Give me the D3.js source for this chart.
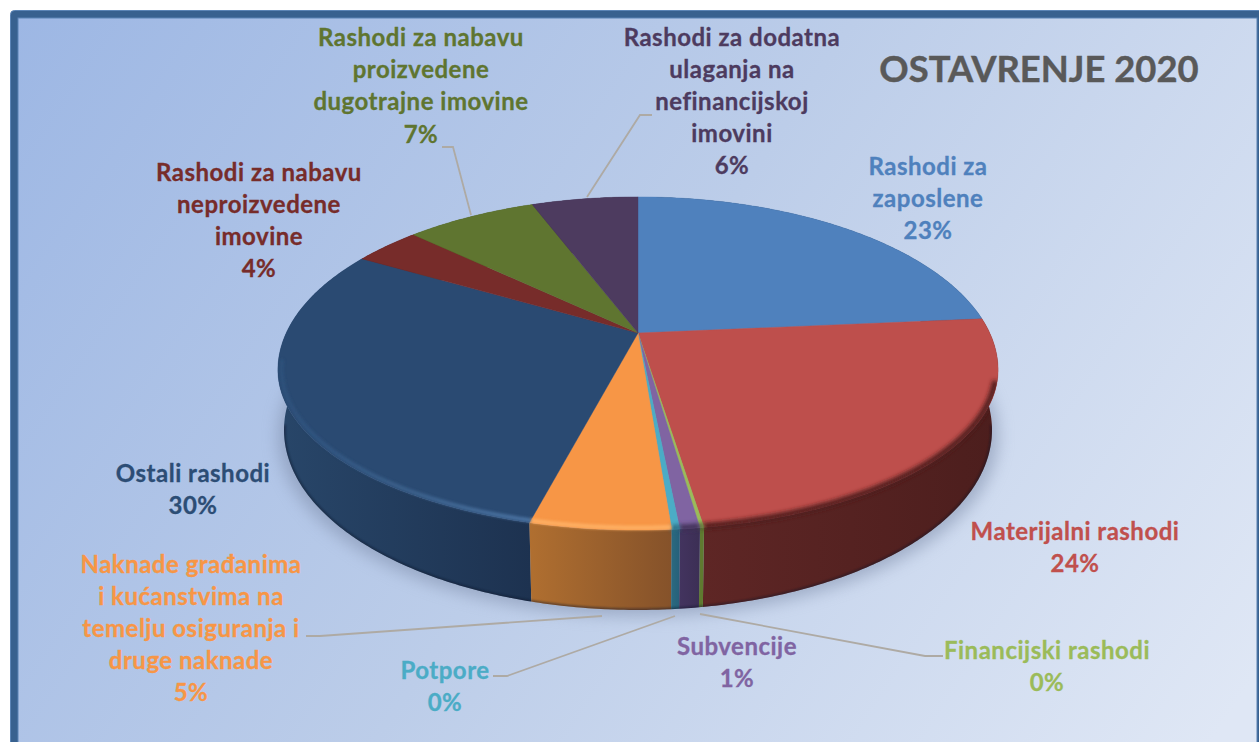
<!DOCTYPE html>
<html><head><meta charset="utf-8">
<script src="https://cdn.jsdelivr.net/npm/d3@7/dist/d3.min.js"></script>
<style>html,body{margin:0;padding:0;background:#fff;overflow:hidden}svg{display:block}text{font-family:Lato,Carlito,"Open Sans",sans-serif;font-weight:700}</style>
</head><body><script>
// ---- data ----
const chartTitle = "OSTAVRENJE 2020";
const categories = [
  ["Rashodi za","zaposlene"],
  ["Materijalni rashodi"],
  ["Financijski rashodi"],
  ["Subvencije"],
  ["Potpore"],
  ["Naknade građanima","i kućanstvima na","temelju osiguranja i","druge naknade"],
  ["Ostali rashodi"],
  ["Rashodi za nabavu","neproizvedene","imovine"],
  ["Rashodi za nabavu","proizvedene","dugotrajne imovine"],
  ["Rashodi za dodatna","ulaganja na","nefinancijskoj","imovini"]
];
const values = [23.1,24.46,0.15,0.75,0.3,5.3,29.65,3.6,7,5.69];
// ---- style ----
const topColors  = ["#4f81bd","#be4f4c","#9bbb59","#8064a2","#4bacc6","#f79646","#2a4a72","#772c2a","#5f7530","#4d3b5f"];
const textColors = ["#4f81bd","#c0504d","#9bbb59","#8064a2","#4bacc6","#f79646","#2c4d75","#772c2a","#5f7530","#4d3b5f"];
const sideColors = [["#2a4467","#2a4467"],["#5e2625","#4c1e1d"],["#5f7a30","#5f7a30"],["#43345f","#3c2f55"],["#2b6a80","#26607a"],["#b06f30","#85522a"],["#284669","#1d3250"],["#4d1c1b","#4d1c1b"],["#3f4e20","#3f4e20"],["#33273f","#33273f"]];
const rimColors  = [null,"#4e1f1e","#5f7a30","#3c2f55","#2b6a80","#ffb469","url(#hl)",null,null,null];
// label layout: centre x, first line centre y, line step
const labelLayout = [[928,165,32],[1075,530,32],[1047,649,32],[737,645,32],[445,669,32],[191,563,32],[193,472,32],[259,171,32],[421,36,32.4],[732,36,32.2]];
const leaders = [
  [[700,614],[925,656],[943,656]],
  [[675,616],[507,676],[493,676]],
  [[602,616],[320,636],[306,636]],
  [[471,215],[453,147],[442,147]],
  [[587,197],[640,115],[652,115]]
];
const W=1259,H=742;
const svg=d3.select("body").append("svg").attr("width",W).attr("height",H);
const defs=svg.append("defs");
const bg=defs.append("linearGradient").attr("id","bg").attr("gradientUnits","userSpaceOnUse").attr("x1",18).attr("y1",18).attr("x2",1180).attr("y2",790);
bg.append("stop").attr("offset",0).attr("stop-color","#9db7e4");
bg.append("stop").attr("offset",.5).attr("stop-color","#bccde9");
bg.append("stop").attr("offset",1).attr("stop-color","#dfe7f5");
const hl=defs.append("linearGradient").attr("id","hl").attr("gradientUnits","userSpaceOnUse").attr("x1",285).attr("x2",530).attr("y1",0).attr("y2",0);
hl.append("stop").attr("offset",0).attr("stop-color","#2f527d");
hl.append("stop").attr("offset",.5).attr("stop-color","#3e648f");
hl.append("stop").attr("offset",1).attr("stop-color","#5079a9");
[["b1",1],["b15",1.5],["b2",2.2],["b8",8]].forEach(([id,s])=>defs.append("filter").attr("id",id).attr("filterUnits","userSpaceOnUse").attr("x",0).attr("y",0).attr("width",W).attr("height",H).append("feGaussianBlur").attr("stdDeviation",s));
// frame
svg.append("rect").attr("x",10.5).attr("y",10.5).attr("width",1300).attr("height",800).attr("rx",4).attr("fill","#38618f").attr("stroke","#5b84b5");
svg.append("rect").attr("x",18).attr("y",18).attr("width",1239).attr("height",740).attr("fill","url(#bg)").attr("stroke","#5b84b5").attr("stroke-width",1);

// 3D pie projection of d3.pie angles
const pie=d3.pie().sort(null).value(d=>d).startAngle(0).endAngle(2*Math.PI);
const arcs=pie(values);
const K=.183, CX=638;
const proj=(y0,a,b,r=1)=>t=>{const u=r*Math.sin(t),v=-r*Math.cos(t),w=1-K*v;return [CX+b*u/w,y0+a*v/w];};
// the visible top rim has its widest point a little below the ellipse centre
const warp=f=>t=>{const [x,y]=f(t),c=363.5;return [x,y<c?370-(c-y)*173/166.5:370+(y-c)*160/166.5];};
const P=warp(proj(333,161,354)), Q=proj(397,174,348);
const samples=(a0,a1)=>{const n=Math.max(2,Math.ceil((a1-a0)/.01));return d3.range(n+1).map(i=>a0+(a1-a0)*i/n);};
const line=d3.line();
const full=samples(0,2*Math.PI);

// ground shadow
const Qs=proj(403,174,354);
svg.append("path").attr("d",line(full.map(Qs))+"Z").attr("fill","#7d8ba8").attr("opacity",.55).attr("filter","url(#b8)");

// sides, back to front
const order=arcs.map((d,i)=>i).sort((a,b)=>{const m=i=>Math.abs((arcs[i].startAngle+arcs[i].endAngle)/2-Math.PI);return m(b)-m(a);});
const sideG=svg.append("g");
const pieClip=defs.append("clipPath").attr("id","pieClip");
pieClip.append("path").attr("d",line(full.map(P))+"Z");
order.forEach(i=>{
  const d=arcs[i],ts=samples(d.startAngle,d.endAngle);
  const pa=ts.map(P),qa=ts.map(Q).reverse();
  const xs=pa.concat(qa).map(p=>p[0]);
  const g=defs.append("linearGradient").attr("id","s"+i).attr("gradientUnits","userSpaceOnUse").attr("x1",d3.min(xs)).attr("x2",d3.max(xs)+.01).attr("y1",0).attr("y2",0);
  g.append("stop").attr("offset",0).attr("stop-color",sideColors[i][0]);
  g.append("stop").attr("offset",1).attr("stop-color",sideColors[i][1]);
  const dp=line(pa.concat(qa))+"Z";
  sideG.append("path").attr("d",dp).attr("fill",`url(#s${i})`);
  pieClip.append("path").attr("d",dp);
});
// darker lower edge of the side
defs.append("clipPath").attr("id","sil").append("path").attr("d",line(full.map(Q))+"Z");
svg.append("g").attr("clip-path","url(#sil)").append("path").attr("d",line(samples(Math.PI*.55,Math.PI*1.45).map(Q))).attr("fill","none").attr("stroke","#10192a").attr("stroke-width",3).attr("opacity",.5).attr("filter","url(#b1)");

// top face
const topG=svg.append("g");
arcs.forEach((d,i)=>{
  const pts=[[CX,333]].concat(samples(d.startAngle,d.endAngle).map(P));
  topG.append("path").attr("d",line(pts)+"Z").attr("fill",topColors[i]).attr("stroke",topColors[i]).attr("stroke-width",.4);
});
// rim bevel on front slices
const Rim=warp(proj(333,161,354,.99)), Rim2=warp(proj(333,161,354,.995));
const bevel=svg.append("g").attr("clip-path","url(#pieClip)");
arcs.forEach((d,i)=>{
  if(!rimColors[i])return;
  const a0=Math.max(d.startAngle,Math.PI*.58),a1=Math.min(d.endAngle,Math.PI*1.46);
  if(a1<=a0)return;
  const light=i===5||i===6;
  bevel.append("path").attr("d",line(samples(a0,a1).map(light?Rim:Rim2)))
    .attr("fill","none").attr("stroke",rimColors[i]).attr("stroke-width",light?4:6)
    .attr("filter",light?"url(#b15)":"url(#b2)").attr("opacity",light?.9:1);
});

// leaders
svg.append("g").selectAll("path").data(leaders).join("path").attr("d",d=>line(d)).attr("fill","none").attr("stroke","#aeaaa4").attr("stroke-width",1.8);

// labels
const fmt=d3.format(".0f");
const lab=svg.append("g").attr("font-size",24).attr("letter-spacing",.5).attr("text-anchor","middle");
categories.forEach((lines,i)=>{
  const [x,y,step]=labelLayout[i];
  lines.concat(fmt(values[i])+"%").forEach((s,j)=>{
    lab.append("text").attr("x",x).attr("y",y+j*step).attr("fill",textColors[i]).attr("stroke",textColors[i]).attr("stroke-width",.3).attr("dominant-baseline","central").text(s);
  });
});
svg.append("text").attr("x",1039).attr("y",68).attr("font-size",36.4).attr("text-anchor","middle").attr("dominant-baseline","central").attr("fill","#595959").attr("stroke","#595959").attr("stroke-width",.4).text(chartTitle);
</script></body></html>
